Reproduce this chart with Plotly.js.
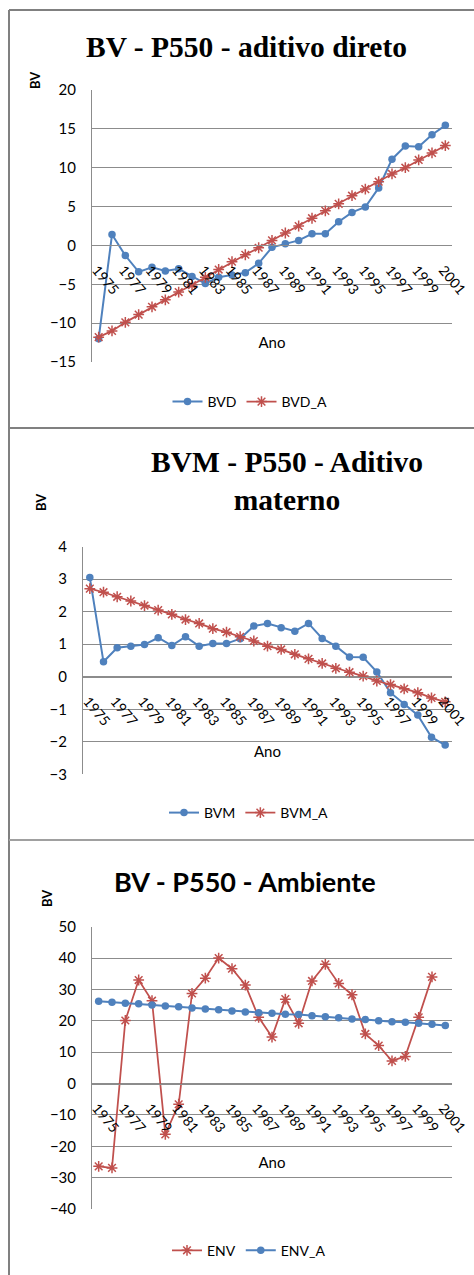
<!DOCTYPE html>
<html><head><meta charset="utf-8">
<script src="https://cdn.plot.ly/plotly-3.0.1.min.js"></script>
<style>html,body{margin:0;padding:0;background:#fff}#chart{width:474px;height:1275px}</style>
</head><body><div id="chart"></div>
<script>
const years = [1975,1976,1977,1978,1979,1980,1981,1982,1983,1984,1985,1986,1987,1988,1989,1990,1991,1992,1993,1994,1995,1996,1997,1998,1999,2000,2001];
const tickYears = [1975,1977,1979,1981,1983,1985,1987,1989,1991,1993,1995,1997,1999,2001];
const tickLabels = ["1975","1977","1979","1981","1983","1985","1987","1989","1991","1993","1995","1997","1999","2001"];

const BVD   = [-12, 1.4, -1.3, -3.4, -2.8, -3.3, -3.0, -4.0, -4.9, -4.1, -3.8, -3.5, -2.3, -0.25, 0.2, 0.65, 1.5, 1.5, 3.05, 4.25, 4.95, 7.4, 11.1, 12.8, 12.7, 14.25, 15.45];
const BVD_A = [-11.8, -11.0, -9.9, -8.9, -7.9, -7.0, -6.0, -5.1, -4.1, -3.1, -2.1, -1.2, -0.3, 0.65, 1.6, 2.5, 3.5, 4.45, 5.35, 6.4, 7.25, 8.2, 9.2, 10.0, 11.0, 11.9, 12.85];

const BVM   = [3.05, 0.46, 0.89, 0.94, 0.99, 1.2, 0.96, 1.23, 0.94, 1.02, 1.02, 1.17, 1.56, 1.64, 1.51, 1.40, 1.64, 1.18, 0.94, 0.61, 0.6, 0.15, -0.49, -0.85, -1.18, -1.86, -2.1];
const BVM_A = [2.71, 2.6, 2.46, 2.33, 2.19, 2.05, 1.92, 1.76, 1.64, 1.48, 1.37, 1.23, 1.1, 0.94, 0.84, 0.69, 0.55, 0.41, 0.26, 0.14, 0.02, -0.13, -0.24, -0.37, -0.49, -0.65, -0.77];

const ENV   = [-26.4, -26.9, 20.1, 33.0, 26.4, -16.2, -6.6, 28.7, 33.6, 40.0, 36.6, 31.4, 21.1, 14.8, 26.9, 19.2, 32.7, 38.0, 31.9, 28.3, 15.8, 12.1, 7.2, 8.65, 21.1, 34.0, null];
const ENV_A = [26.2, 25.9, 25.6, 25.4, 25.0, 24.7, 24.5, 24.1, 23.8, 23.5, 23.1, 22.8, 22.6, 22.4, 22.1, 22.0, 21.6, 21.3, 21.0, 20.6, 20.4, 20.0, 19.7, 19.5, 19.2, 18.9, 18.5];

const W = 474, H = 1275;
const BLUE = '#4F81BD', RED = '#C0504D', GRID = '#8c8c8c';
const SANS = 'Lato, "Open Sans", sans-serif';
const SERIF = '"Liberation Serif", "Times New Roman", serif';
const px = v => v / W;
const py = v => 1 - v / H;

// panel geometry (pixels)
const P = [
  {l: 92, r: 452, t: 90,    b: 362,    yr: [-15, 20], dt: 5,  so: 40},
  {l: 83, r: 452, t: 546.7, b: 774.3,  yr: [-3, 4],   dt: 1,  so: 18},
  {l: 92, r: 452, t: 926.7, b: 1209,   yr: [-40, 50], dt: 10, so: 22}
];

const layout = {
  width: W, height: H,
  margin: {l: 0, r: 0, t: 0, b: 0},
  paper_bgcolor: '#fff', plot_bgcolor: '#fff',
  font: {family: SANS, color: '#000'},
  title: {text: 'BV - P550 - aditivo direto', font: {family: SERIF, size: 29.5, color: '#000', weight: 'bold'},
          xref: 'paper', yref: 'paper', x: px(246.5), y: py(47), xanchor: 'center', yanchor: 'middle'},
  showlegend: true,
  annotations: [],
  shapes: []
};

P.forEach((p, i) => {
  const s = i === 0 ? '' : String(i + 1);
  const yd = [py(p.b), py(p.t)];
  const pos = yd[0] + (yd[1] - yd[0]) * (0 - p.yr[0]) / (p.yr[1] - p.yr[0]);
  layout['xaxis' + s] = {
    domain: [px(p.l), px(p.r)], range: [1974.5, 2001.5], anchor: 'free', position: pos,
    tickmode: 'array', tickvals: tickYears, ticktext: tickLabels, tickangle: 50,
    showgrid: false, zeroline: false, showline: true, linecolor: GRID, linewidth: 1,
    ticks: '', tickfont: {family: SANS, size: 14, color: '#000'}, ticklabelstandoff: 10,
    ticklabelshift: -2, ticklabeloverflow: 'allow',
    title: {text: 'Ano', font: {family: SANS, size: 15, color: '#000'}, standoff: p.so},
    fixedrange: true
  };
  layout['yaxis' + s] = {
    domain: yd, range: p.yr, dtick: p.dt, tick0: 0, anchor: 'x' + s,
    showgrid: true, gridcolor: GRID, gridwidth: 1, zeroline: false,
    showline: true, linecolor: GRID, linewidth: 1, ticks: '',
    tickfont: {family: SANS, size: 15, color: '#000'}, ticklabelstandoff: 12,
    fixedrange: true
  };
});

// titles for panels 2 and 3
layout.annotations.push({
  text: 'BVM - P550 - Aditivo<br>materno', xref: 'paper', yref: 'paper', x: px(287), y: py(481),
  xanchor: 'center', yanchor: 'middle', showarrow: false,
  font: {family: SERIF, size: 29.5, color: '#000', weight: 'bold'}
});
layout.annotations.push({
  text: 'BV - P550 - Ambiente', xref: 'paper', yref: 'paper', x: px(245), y: py(881),
  xanchor: 'center', yanchor: 'middle', showarrow: false,
  font: {family: SANS, size: 27, color: '#000', weight: 'bold'}
});
// "BV" value axis titles
[[35, 80], [41, 502], [47, 898]].forEach(([x, y]) => {
  layout.annotations.push({
    text: 'BV', xref: 'paper', yref: 'paper', x: px(x), y: py(y), textangle: -90,
    xanchor: 'center', yanchor: 'middle', showarrow: false,
    font: {family: SANS, size: 13, color: '#000', weight: 'bold'}
  });
});

// legends
layout.legend  = {orientation: 'h', x: px(250), y: py(402),    xanchor: 'center', yanchor: 'middle', font: {family: SANS, size: 14, color: '#000'}, bgcolor: 'rgba(0,0,0,0)'};
layout.legend2 = {orientation: 'h', x: px(249), y: py(813),    xanchor: 'center', yanchor: 'middle', font: {family: SANS, size: 14, color: '#000'}, bgcolor: 'rgba(0,0,0,0)'};
layout.legend3 = {orientation: 'h', x: px(249), y: py(1250.7), xanchor: 'center', yanchor: 'middle', font: {family: SANS, size: 14, color: '#000'}, bgcolor: 'rgba(0,0,0,0)'};

// chart-area borders
const BORDER = '#808080';
layout.shapes.push(
  {type: 'line', xref: 'paper', yref: 'paper', x0: px(9), x1: px(480), y0: py(10),  y1: py(10),  line: {color: BORDER, width: 2}},
  {type: 'line', xref: 'paper', yref: 'paper', x0: px(9), x1: px(9),   y0: py(10),  y1: py(1280), line: {color: BORDER, width: 2}},
  {type: 'line', xref: 'paper', yref: 'paper', x0: px(9), x1: px(480), y0: py(428), y1: py(428), line: {color: BORDER, width: 2}},
  {type: 'line', xref: 'paper', yref: 'paper', x0: px(9), x1: px(480), y0: py(840), y1: py(840), line: {color: '#a0a0a0', width: 2}}
);

const circle = (name, y, xa, ya, lg) => ({
  type: 'scatter', mode: 'lines+markers', name, x: years, y, xaxis: xa, yaxis: ya, legend: lg,
  line: {color: BLUE, width: 2}, marker: {symbol: 'circle', size: 7.5, color: BLUE}, cliponaxis: false
});
const star = (name, y, xa, ya, lg) => ({
  type: 'scatter', mode: 'lines+markers', name, x: years, y, xaxis: xa, yaxis: ya, legend: lg,
  line: {color: RED, width: 1.75}, marker: {symbol: 'asterisk-open', size: 9, color: RED, line: {color: RED, width: 1.5}}, cliponaxis: false
});

const data = [
  circle('BVD', BVD, 'x', 'y', 'legend'),
  star('BVD_A', BVD_A, 'x', 'y', 'legend'),
  circle('BVM', BVM, 'x2', 'y2', 'legend2'),
  star('BVM_A', BVM_A, 'x2', 'y2', 'legend2'),
  star('ENV', ENV, 'x3', 'y3', 'legend3'),
  circle('ENV_A', ENV_A, 'x3', 'y3', 'legend3')
];

Plotly.newPlot('chart', data, layout, {displayModeBar: false, staticPlot: true});
</script></body></html>
